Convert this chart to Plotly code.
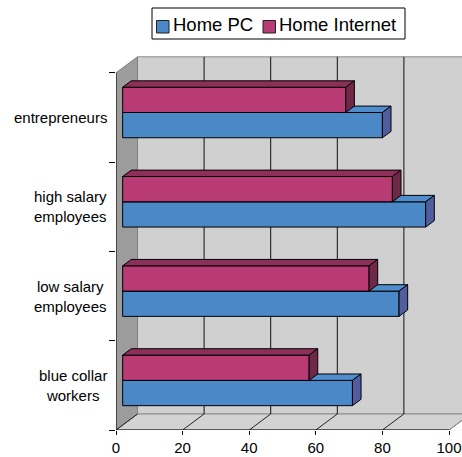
import plotly.graph_objects as go

# ---- data ---------------------------------------------------------------
categories = ["blue collar<br>workers", "low salary<br>employees",
              "high salary<br>employees", "entrepreneurs"]
home_pc = [69, 83, 91, 78]
home_internet = [56, 74, 81, 67]
x_ticks = [0, 20, 40, 60, 80, 100]
series_names = ["Home PC", "Home Internet"]

# ---- look ---------------------------------------------------------------
FONT = "Liberation Sans, Arial, sans-serif"
BLUE = dict(front="#4A88C8", top="#4F8DCC", side="#505E9F")
MAGENTA = dict(front="#B83B74", top="#8C3059", side="#702849")

W, H = 462, 457
M_L, M_R, M_T, M_B = 116, 0, 56, 27
PX_X = 3.33      # pixels per value unit
PX_Y = 89.3      # pixels per category band

X_MAX = (W - M_L - M_R) / PX_X
Y_MAX = (H - M_T - M_B) / PX_Y

# oblique depth of the 3-D box, in axis units
DX = 21.5 / PX_X
DY = 16.0 / PX_Y
# bars occupy this slice of the box depth
Z0, Z1 = 0.31, 0.71
BAR_H = 0.283
N = len(categories)

fig = go.Figure()


def poly(xs, ys, fill, line="black", width=1.0):
    fig.add_trace(go.Scatter(
        x=xs, y=ys, mode="lines", fill="toself", fillcolor=fill,
        line=dict(color=line, width=width), hoverinfo="skip",
        showlegend=False))


def seg(xs, ys, color, width=1.0):
    fig.add_trace(go.Scatter(
        x=xs, y=ys, mode="lines", line=dict(color=color, width=width),
        hoverinfo="skip", showlegend=False))


# back wall
poly([DX, X_MAX + 10, X_MAX + 10, DX, DX],
     [DY, DY, N + DY, N + DY, DY], "#D0D0D0", "#8A8A8A")
# floor
poly([0, 100, 100 + DX, DX, 0], [0, 0, DY, DY, 0], "#D3D3D3", "#8A8A8A")
# side wall
poly([0, DX, DX, 0, 0], [0, DY, N + DY, N, 0], "#9C9C9C", "#808080")

# grid lines on the back wall and the floor
for v in x_ticks:
    seg([v + DX, v + DX], [DY, N + DY], "#808080" if v == 0 else "#111111")
    seg([v, v + DX], [0, DY], "#8A8A8A" if v == 100 else "#222222")

# front edges of the box
seg([0, 100], [0, 0], "black")
seg([0, 0], [0, N], "black")

# ---- 3-D bars -------------------------------------------------------------
xb = Z0 * DX
ddx = (Z1 - Z0) * DX
ddy = (Z1 - Z0) * DY


def bar3d(val, y0, y1, col):
    x1 = xb + val
    poly([xb, x1, x1, xb, xb], [y0, y0, y1, y1, y0], col["front"])
    poly([xb, x1, x1 + ddx, xb + ddx, xb],
         [y1, y1, y1 + ddy, y1 + ddy, y1], col["top"])
    poly([x1, x1 + ddx, x1 + ddx, x1, x1],
         [y0, y0 + ddy, y1 + ddy, y1, y0], col["side"])


for i in range(N):
    c = i + 0.5 + Z0 * DY
    bar3d(home_pc[i], c - BAR_H, c, BLUE)
    bar3d(home_internet[i], c, c + BAR_H, MAGENTA)

# ---- category labels ------------------------------------------------------
def px2paper_x(px):
    return (px - M_L) / (W - M_L - M_R)


def px2paper_y(py):
    return (H - M_B - py) / (H - M_T - M_B)


for i, name in enumerate(categories):
    fig.add_annotation(
        x=px2paper_x(109), xref="paper", y=i + 0.5, yref="y",
        text=name, showarrow=False, xanchor="right", yanchor="middle",
        align="center", font=dict(family=FONT, size=15, color="black"))

# ---- legend box -----------------------------------------------------------
shapes = [dict(type="rect", xref="paper", yref="paper",
               x0=px2paper_x(152), x1=px2paper_x(405),
               y0=px2paper_y(39), y1=px2paper_y(8),
               line=dict(color="black", width=1), fillcolor="white")]
legend_items = [(156.5, BLUE["front"], series_names[0]),
                (263, MAGENTA["front"], series_names[1])]
for sx, colr, label in legend_items:
    shapes.append(dict(type="rect", xref="paper", yref="paper",
                       x0=px2paper_x(sx), x1=px2paper_x(sx + 12.5),
                       y0=px2paper_y(33), y1=px2paper_y(20.5),
                       line=dict(color="#222222", width=1), fillcolor=colr))
    fig.add_annotation(
        x=px2paper_x(sx + 14), xref="paper", y=px2paper_y(24), yref="paper",
        text=label, showarrow=False, xanchor="left", yanchor="middle",
        font=dict(family=FONT, size=18.5, color="black"))

fig.update_layout(
    width=W, height=H, autosize=False,
    margin=dict(l=M_L, r=M_R, t=M_T, b=M_B, pad=0),
    paper_bgcolor="white", plot_bgcolor="white",
    showlegend=False, shapes=shapes,
    font=dict(family=FONT, size=15, color="black"),
    xaxis=dict(range=[0, X_MAX], tickvals=x_ticks,
               ticks="outside", ticklen=4, tickcolor="black",
               showgrid=False, zeroline=False, showline=False,
               tickfont=dict(family=FONT, size=15, color="black"),
               fixedrange=True),
    yaxis=dict(range=[0, Y_MAX], tickvals=list(range(N + 1)),
               ticks="outside", ticklen=6, tickcolor="black",
               showticklabels=False, showgrid=False, zeroline=False,
               showline=False, fixedrange=True),
)

fig.write_html("out.html")
